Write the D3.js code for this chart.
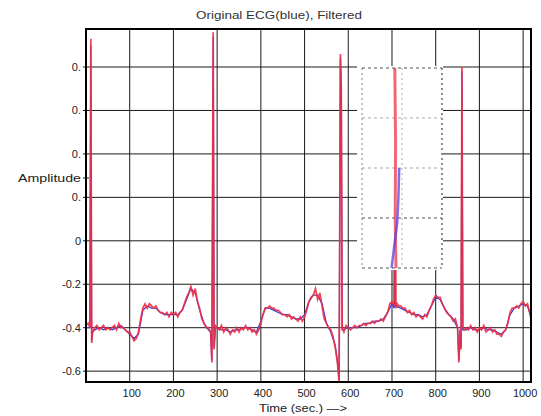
<!DOCTYPE html>
<html>
<head>
<meta charset="utf-8">
<script src="https://cdn.jsdelivr.net/npm/d3@7"></script>
<style>
  body { margin: 0; background: #fff; }
  text { font-family: "Liberation Sans", Arial, sans-serif; }
</style>
</head>
<body>
<div id="ecg_chart"></div>
<script>
var width = 541,
    height = 416;
var left = 86, top_ = 29, right = 531, bottom = 382;

// x tick values and labels
var xTicks = [100, 200, 300, 400, 500, 600, 700, 800, 900, 1000];
var yTicks = [0.8, 0.6, 0.4, 0.2, 0, -0.2, -0.4, -0.6];
var yTickLabels = ["0.", "0.", "0.", "0.", "0", "-0.2", "-0.4", "-0.6"];

// filtered signal (red), [time, amplitude]
var filtered = [
  [0,-0.39],[5,-0.38],[9,-0.40],[11,0.93],[13,-0.47],[15,-0.42],[20,-0.40],[25,-0.39],[30,-0.41],[35,-0.40],
  [40,-0.39],[45,-0.41],[50,-0.40],[55,-0.41],[60,-0.40],[65,-0.39],[70,-0.41],[75,-0.38],[80,-0.40],[85,-0.40],
  [90,-0.41],[95,-0.42],[100,-0.42],[105,-0.44],[110,-0.46],[115,-0.45],[120,-0.42],[125,-0.36],[130,-0.31],[135,-0.29],
  [140,-0.31],[145,-0.29],[150,-0.30],[155,-0.31],[160,-0.30],[165,-0.32],[170,-0.33],[175,-0.33],[180,-0.34],[185,-0.33],
  [190,-0.35],[195,-0.33],[200,-0.34],[205,-0.33],[210,-0.35],[215,-0.33],[220,-0.32],[225,-0.29],[230,-0.26],[235,-0.24],
  [240,-0.21],[245,-0.25],[250,-0.22],[255,-0.28],[260,-0.31],[265,-0.36],[270,-0.38],[275,-0.40],[280,-0.40],[285,-0.42],
  [288,-0.56],[291,0.96],[293,-0.50],[296,-0.39],[300,-0.40],[305,-0.41],[310,-0.39],[315,-0.42],[320,-0.40],[325,-0.41],
  [330,-0.43],[335,-0.41],[340,-0.42],[345,-0.40],[350,-0.42],[355,-0.40],[360,-0.41],[365,-0.39],[370,-0.41],[375,-0.40],
  [380,-0.42],[385,-0.41],[390,-0.43],[395,-0.41],[400,-0.38],[405,-0.34],[410,-0.31],[415,-0.31],[420,-0.30],[425,-0.31],
  [430,-0.31],[435,-0.32],[440,-0.32],[445,-0.33],[450,-0.34],[455,-0.34],[460,-0.35],[465,-0.34],[470,-0.36],[475,-0.35],
  [480,-0.36],[485,-0.37],[490,-0.35],[495,-0.37],[500,-0.35],[505,-0.32],[510,-0.28],[515,-0.26],[520,-0.25],[525,-0.22],
  [530,-0.27],[535,-0.24],[540,-0.30],[545,-0.36],[550,-0.38],[555,-0.40],[560,-0.41],[565,-0.44],[570,-0.49],[575,-0.56],
  [579,-0.65],[582,0.86],[584,0.70],[586,-0.40],[590,-0.42],[595,-0.39],[600,-0.40],[605,-0.41],[610,-0.40],[615,-0.39],
  [620,-0.40],[625,-0.39],[630,-0.39],[635,-0.38],[640,-0.39],[645,-0.38],[650,-0.38],[655,-0.37],[660,-0.38],[665,-0.37],
  [670,-0.37],[675,-0.36],[680,-0.37],[685,-0.35],[690,-0.33],[695,-0.29],[700,-0.28],[705,-0.30],[707,0.80],[709,-0.31],
  [712,-0.29],[715,-0.30],[720,-0.30],[725,-0.31],[730,-0.31],[735,-0.33],[740,-0.32],[745,-0.34],[750,-0.33],[755,-0.35],
  [760,-0.34],[765,-0.35],[770,-0.36],[775,-0.34],[780,-0.35],[785,-0.32],[790,-0.30],[795,-0.27],[800,-0.25],[805,-0.26],
  [810,-0.26],[815,-0.29],[820,-0.31],[825,-0.33],[830,-0.34],[835,-0.35],[840,-0.37],[845,-0.36],[850,-0.40],[853,-0.56],
  [856,-0.41],[858,-0.50],[860,0.80],[862,-0.40],[865,-0.41],[870,-0.40],[875,-0.41],[880,-0.39],[885,-0.41],[890,-0.40],
  [895,-0.42],[900,-0.40],[905,-0.41],[910,-0.39],[915,-0.42],[920,-0.41],[925,-0.40],[930,-0.42],[935,-0.41],[940,-0.43],
  [945,-0.43],[950,-0.44],[955,-0.42],[960,-0.41],[965,-0.38],[970,-0.33],[975,-0.31],[980,-0.31],[985,-0.30],[990,-0.31],
  [995,-0.29],[1000,-0.28],[1005,-0.30],[1010,-0.29],[1015,-0.33],[1018,-0.36]
];

// original signal (blue), [time, amplitude]
var original = [
  [0,-0.40],[9,-0.40],[11,0.90],[13,-0.46],[15,-0.42],[20,-0.41],[30,-0.40],[40,-0.41],[50,-0.40],[60,-0.41],[70,-0.40],
  [80,-0.39],[90,-0.41],[100,-0.43],[110,-0.45],[120,-0.43],[130,-0.32],[140,-0.30],[150,-0.31],[160,-0.31],[170,-0.33],
  [180,-0.34],[190,-0.34],[200,-0.34],[210,-0.34],[220,-0.32],[230,-0.27],[240,-0.22],[250,-0.24],[260,-0.32],[270,-0.38],
  [280,-0.41],[285,-0.42],[288,-0.55],[291,0.94],[293,-0.49],[296,-0.40],[300,-0.40],[310,-0.41],[320,-0.41],[330,-0.42],[340,-0.41],[350,-0.41],
  [360,-0.40],[370,-0.40],[380,-0.41],[390,-0.42],[400,-0.37],[410,-0.31],[420,-0.31],[430,-0.32],[440,-0.33],[450,-0.34],
  [460,-0.34],[470,-0.35],[480,-0.36],[490,-0.36],[500,-0.34],[510,-0.28],[520,-0.25],[530,-0.25],[540,-0.29],[550,-0.38],
  [560,-0.42],[570,-0.48],[575,-0.55],[579,-0.64],[582,0.84],[584,0.69],[586,-0.41],[600,-0.40],[610,-0.40],[620,-0.40],[630,-0.39],[640,-0.38],
  [650,-0.38],[660,-0.37],[670,-0.37],[680,-0.36],[690,-0.33],[700,-0.29],[705,-0.31],[706,0.35],[708,-0.30],[720,-0.31],
  [730,-0.32],[740,-0.33],[750,-0.34],[760,-0.34],[770,-0.35],[780,-0.34],[790,-0.30],[800,-0.26],[810,-0.27],[820,-0.31],
  [830,-0.34],[840,-0.36],[850,-0.40],[853,-0.55],[856,-0.41],[858,-0.49],[860,0.78],[862,-0.41],[870,-0.41],[880,-0.40],[890,-0.41],
  [900,-0.41],[910,-0.40],[920,-0.41],[930,-0.41],[940,-0.42],[950,-0.43],[960,-0.41],[970,-0.34],[980,-0.31],[990,-0.30],
  [1000,-0.29],[1010,-0.30],[1018,-0.35]
];

// zoomed inset contents (inset units)
var insetXTicks = [0, 1, 2];
var insetYTicks = [0, 1, 2, 3, 4];
var insetRed = [[0.82, 4.0], [0.84, 2.5], [0.83, 1.0], [0.85, 0.0]];
var insetBlue = [[0.93, 2.0], [0.91, 1.4], [0.88, 0.9], [0.80, 0.4], [0.74, 0.0]];

var render = function () {
    var svg = d3.select("#ecg_chart").append("svg")
        .attr("width", width)
        .attr("height", height);

    var x = d3.scaleLinear().domain([0, 1018]).range([left, right]);
    var y = d3.scaleLinear().domain([-0.65, 0.975]).range([bottom, top_]);

    // grid
    svg.append("g")
        .selectAll("line.vgrid")
        .data(xTicks)
        .enter()
        .append("line")
        .attr("x1", function (d) { return x(d); })
        .attr("x2", function (d) { return x(d); })
        .attr("y1", top_)
        .attr("y2", bottom)
        .style("stroke", "#1a1a1a")
        .style("stroke-width", 1);

    svg.append("g")
        .selectAll("line.hgrid")
        .data(yTicks)
        .enter()
        .append("line")
        .attr("x1", left - 3)
        .attr("x2", right)
        .attr("y1", function (d) { return y(d); })
        .attr("y2", function (d) { return y(d); })
        .style("stroke", "#1a1a1a")
        .style("stroke-width", 1);

    var line = d3.line()
        .x(function (d) { return x(d[0]); })
        .y(function (d) { return y(d[1]); });

    var plot = svg.append("g");
    plot.append("clipPath").attr("id", "plotclip")
        .append("rect")
        .attr("x", left).attr("y", top_)
        .attr("width", right - left).attr("height", bottom - top_);

    plot.append("path")
        .datum(original)
        .attr("clip-path", "url(#plotclip)")
        .attr("d", line)
        .style("fill", "none")
        .style("stroke", "#3b3bd6")
        .style("stroke-width", 1.3);

    plot.append("path")
        .datum(filtered)
        .attr("clip-path", "url(#plotclip)")
        .attr("d", line)
        .style("fill", "none")
        .style("stroke", "#ee2e44")
        .style("stroke-opacity", 0.9)
        .style("stroke-width", 1.7);

    // inset zoom box
    var ix = d3.scaleLinear().domain([0, 2]).range([362, 442]);
    var iy = d3.scaleLinear().domain([0, 4]).range([268, 68]);

    svg.append("rect")
        .attr("x", ix(0) - 5)
        .attr("y", iy(4) - 2)
        .attr("width", ix(2) - ix(0) + 6)
        .attr("height", iy(0) - iy(4) + 4)
        .style("fill", "#fff");

    svg.selectAll("line.ivgrid")
        .data(insetXTicks)
        .enter()
        .append("line")
        .attr("x1", function (d) { return ix(d); })
        .attr("x2", function (d) { return ix(d); })
        .attr("y1", iy(4))
        .attr("y2", iy(0))
        .style("stroke", function (d) { return d == 1 ? "#a8c8b0" : (d == 0 ? "#999" : "#444"); })
        .style("stroke-dasharray", "2,3")
        .style("stroke-width", 1.2);

    svg.selectAll("line.ihgrid")
        .data(insetYTicks)
        .enter()
        .append("line")
        .attr("x1", ix(0))
        .attr("x2", ix(2))
        .attr("y1", function (d) { return iy(d); })
        .attr("y2", function (d) { return iy(d); })
        .style("stroke", function (d) { return (d == 2 || d == 3) ? "#aaa" : "#555"; })
        .style("stroke-dasharray", "3,3")
        .style("stroke-width", 1.2);

    var iline = d3.line()
        .x(function (d) { return ix(d[0]); })
        .y(function (d) { return iy(d[1]); });

    svg.append("path")
        .datum(insetRed)
        .attr("d", iline)
        .style("fill", "none")
        .style("stroke", "#e8283c")
        .style("stroke-opacity", 0.7)
        .style("stroke-width", 3);

    svg.append("path")
        .datum(insetBlue)
        .attr("d", iline)
        .style("fill", "none")
        .style("stroke", "#5a3ee0")
        .style("stroke-opacity", 0.75)
        .style("stroke-width", 2.5);

    // frame
    svg.append("rect")
        .attr("x", left)
        .attr("y", top_)
        .attr("width", right - left)
        .attr("height", bottom - top_)
        .style("fill", "none")
        .style("stroke", "#000")
        .style("stroke-width", 2);

    // tick labels
    svg.selectAll("text.ylab")
        .data(yTicks)
        .enter()
        .append("text")
        .attr("x", left - 5)
        .attr("y", function (d) { return y(d) + 4; })
        .attr("text-anchor", "end")
        .attr("font-size", 11)
        .style("fill", "#222")
        .text(function (d, i) { return yTickLabels[i]; });

    svg.selectAll("text.xlab")
        .data(xTicks)
        .enter()
        .append("text")
        .attr("x", function (d) { return x(d) + 2; })
        .attr("y", bottom + 15)
        .attr("text-anchor", "middle")
        .attr("font-size", 11)
        .style("fill", "#222")
        .text(function (d) { return d; });

    // y label with its tick
    svg.append("line")
        .attr("x1", left - 3).attr("x2", left + 3)
        .attr("y1", 178).attr("y2", 178)
        .style("stroke", "#1a1a1a");
    svg.append("text")
        .attr("x", 81)
        .attr("y", 182)
        .attr("text-anchor", "end")
        .attr("font-size", 11)
        .attr("textLength", 63)
        .attr("lengthAdjust", "spacingAndGlyphs")
        .style("fill", "#222")
        .text("Amplitude");

    svg.append("text")
        .attr("x", 279)
        .attr("y", 19)
        .attr("text-anchor", "middle")
        .attr("font-size", 11)
        .attr("textLength", 166)
        .attr("lengthAdjust", "spacingAndGlyphs")
        .style("fill", "#333")
        .text("Original ECG(blue), Filtered");

    svg.append("text")
        .attr("x", 259)
        .attr("y", 412)
        .attr("font-size", 11)
        .attr("textLength", 88)
        .attr("lengthAdjust", "spacingAndGlyphs")
        .style("fill", "#222")
        .text("Time  (sec.) \u2014>");
};

render();
</script>
</body>
</html>
